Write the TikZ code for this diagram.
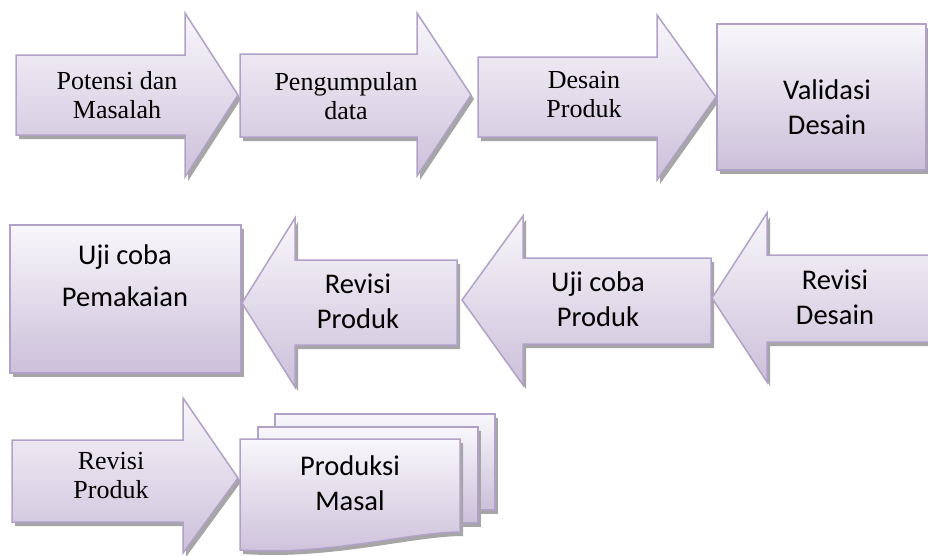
\documentclass[tikz,border=0pt]{standalone}
\usepackage{fontspec}
\newfontfamily\timesfont{Liberation Serif}
\newfontfamily\calibrifont{Carlito}
\usetikzlibrary{shadows}
\definecolor{edgelav}{HTML}{B2A1C7}
\definecolor{toplav}{HTML}{F8F7FB}
\definecolor{botlav}{HTML}{CCC0DA}
\definecolor{shadowgray}{HTML}{A6A6A6}

\begin{document}
\begin{tikzpicture}[x=1pt,y=-1pt,
flowpart/.style={draw=edgelav,line width=1.5pt,top color=toplav,bottom color=botlav,
  drop shadow={shadow xshift=3pt,shadow yshift=-4pt,fill=shadowgray,opacity=1}},
serif/.style={font=\timesfont\fontsize{26}{29}\selectfont,align=center},
sans/.style={font=\calibrifont\fontsize{28.5}{35}\selectfont,align=center}]

\useasboundingbox (0,0) rectangle (928,555);

% first row, pointing right
\draw[flowpart] (16,55) -- (185,55) -- (185,13) -- (238,95) -- (185,177) -- (185,135) -- (16,135) -- cycle;
\draw[flowpart] (240,54) -- (417,54) -- (417,13) -- (471,95) -- (417,176) -- (417,137) -- (240,137) -- cycle;
\draw[flowpart] (478,57) -- (657,57) -- (657,15) -- (716,97) -- (657,180) -- (657,137) -- (478,137) -- cycle;
\draw[flowpart] (717,24) rectangle (926,170);

\node[serif] (potensi) at (117,95) {Potensi dan\\Masalah};
\node[serif] (pengumpulan) at (346,96) {Pengumpulan\\data};
\node[serif] (desain) at (584,95) {Desain\\Produk};
\node[sans] (validasi) at (827,107) {Validasi\\Desain};

% second row, pointing left
\draw[flowpart] (10,225) rectangle (241,373);
\draw[flowpart] (242,303) -- (295,218) -- (295,260) -- (457,260) -- (457,345) -- (295,345) -- (295,387) -- cycle;
\draw[flowpart] (462,300) -- (523,216) -- (523,258) -- (711,258) -- (711,344) -- (523,344) -- (523,385) -- cycle;
\draw[flowpart] (712,298) -- (767,213) -- (767,255) -- (935,255) -- (935,342) -- (767,342) -- (767,382) -- cycle;

\node[sans,font=\calibrifont\fontsize{28.5}{42}\selectfont] (ujipakai) at (125,276) {Uji coba\\Pemakaian};
\node[sans] (revisiproduk) at (358,301) {Revisi\\Produk};
\node[sans] (ujiproduk) at (598,299) {Uji coba\\Produk};
\node[sans] (revisidesain) at (835,297) {Revisi\\Desain};

% third row
\draw[flowpart] (12,440) -- (183,440) -- (183,398) -- (238,478) -- (183,553) -- (183,522) -- (12,522) -- cycle;
\draw[flowpart] (275,414) rectangle (495,510);
\draw[flowpart] (258,427) rectangle (478,523);
\draw[flowpart] (240,439) -- (460,439) -- (460,532) .. controls (410,532) and (330,556) .. (240,550) -- cycle;

\node[serif] (revisiakhir) at (111,476) {Revisi\\Produk};
\node[sans] (produksi) at (350,483) {Produksi\\Masal};
\end{tikzpicture}
\end{document}
